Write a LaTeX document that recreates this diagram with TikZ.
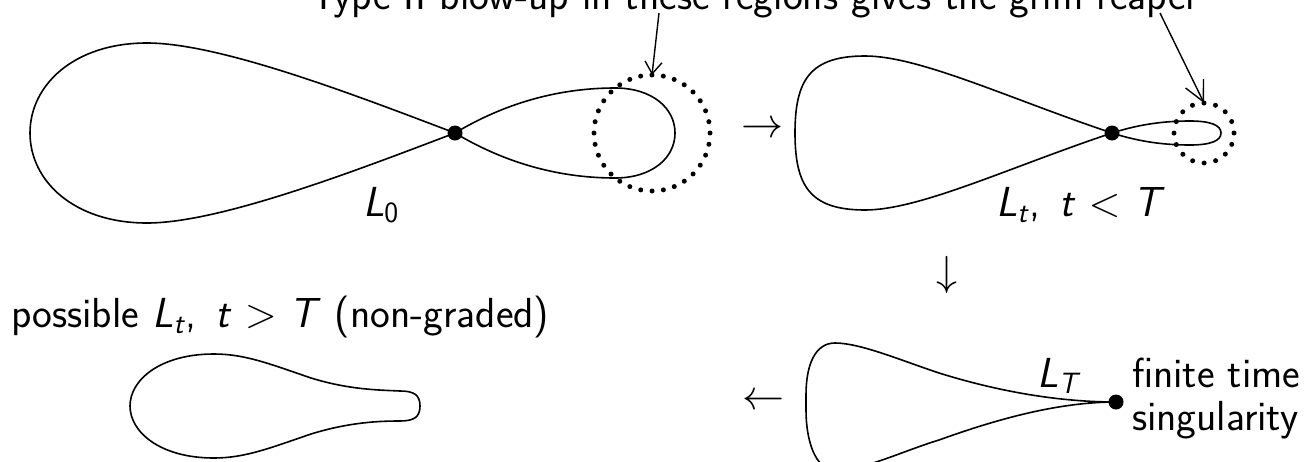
\RequirePackage{fix-cm}
\documentclass[tikz,border=0pt]{standalone}
\usetikzlibrary{arrows.meta}
\tikzset{
  curve/.style={line width=1.6pt, line join=round},
  blob/.style={circle, fill=black, inner sep=0pt, minimum size=15pt},
  dotring/.style={circle, draw, inner sep=0pt, outer sep=0pt, line width=5pt, line cap=round},
  lbl/.style={anchor=base west, inner sep=0pt, outer sep=0pt, font=\sffamily\fontsize{42}{46}\selectfont},
  sym/.style={inner sep=0pt, outer sep=0pt, font=\fontsize{42}{46}\selectfont},
  pointer/.style={line width=1.4pt},
}
\begin{document}
\begin{tikzpicture}[x=1pt,y=-1pt]
\useasboundingbox (0,0) rectangle (1314,461);
\clip (0,0) rectangle (1314,461);

% crossing points
\node[blob] (n1) at (455,133) {};
\node[blob] (n2) at (1112,133) {};
\node[blob] (nT) at (1116,402) {};

% dotted rings
\node[dotring, minimum size=116pt, dash pattern=on 0pt off 11.388pt] (ring1) at (652,133) {};
\node[dotring, minimum size=60pt, dash pattern=on 0pt off 11.781pt] (ring2) at (1204,133) {};

% L_0
\draw[curve] (n1.center) .. controls (355,95) and (220,43) .. (147,43)
  .. controls (74,43) and (30,85) .. (30,133)
  .. controls (30,181) and (74,223) .. (147,223)
  .. controls (220,223) and (355,171) .. (n1.center);
\draw[curve] (n1.center) .. controls (510,100) and (565,88) .. (615,88)
  .. controls (652,88) and (675,108) .. (675,133)
  .. controls (675,158) and (652,178) .. (615,178)
  .. controls (565,178) and (510,166) .. (n1.center);

% L_t, t<T
\draw[curve] (n2.center) .. controls (1010,99) and (920,56) .. (865,56)
  .. controls (810,56) and (795,80) .. (795,133)
  .. controls (795,186) and (810,210) .. (865,210)
  .. controls (920,210) and (1010,167) .. (n2.center);
\draw[curve] (n2.center) .. controls (1140,124) and (1165,121) .. (1190,121)
  .. controls (1210,121) and (1221,125) .. (1221,133)
  .. controls (1221,141) and (1210,145) .. (1190,145)
  .. controls (1165,145) and (1140,142) .. (n2.center);

% possible L_t, t>T
\draw[curve] (420,406) .. controls (420,395) and (414,391) .. (400,391)
  .. controls (380,390) and (350,390) .. (311,378)
  .. controls (270,364) and (245,354) .. (214,354)
  .. controls (160,354) and (130,380) .. (130,406)
  .. controls (130,432) and (160,458) .. (214,458)
  .. controls (245,458) and (270,448) .. (311,434)
  .. controls (350,422) and (380,421) .. (400,421)
  .. controls (414,421) and (420,417) .. (420,406) -- cycle;

% L_T
\draw[curve] (nT.center) .. controls (1060,402) and (1000,392) .. (939,373)
  .. controls (900,360) and (860,343) .. (835,343)
  .. controls (815,343) and (806,365) .. (806,395)
  -- (806,410)
  .. controls (806,440) and (815,470) .. (835,470)
  .. controls (865,470) and (900,452) .. (939,440)
  .. controls (1000,418) and (1060,402) .. (nT.center);

% texts
\node[lbl] (top) at (310,9) {Type II blow-up in these regions gives the grim reaper};
\node[lbl] (l0) at (363,216) {\textit{L}\textsubscript{0}};
\node[lbl] (lt) at (996,216) {\textit{L}\textsubscript{\textit{t}},\hspace{0.45em}\textit{t} $<$ \textit{T}};
\node[sym] (ar1) at (762,130) {$\rightarrow$};
\node[sym] (ar2) at (947,275) {$\downarrow$};
\node[sym] (ar3) at (763,402) {$\leftarrow$};
\node[lbl] (poss) at (11,327) {possible \textit{L}\textsubscript{\textit{t}},\hspace{0.45em}\textit{t} $>$ \textit{T} (non-graded)};
\node[lbl] (lT) at (1037,387) {\textit{L}\textsubscript{\textit{T}}};
\node[lbl] (fin) at (1132,387) {finite time};
\node[lbl] (sing) at (1132,430) {singularity};

% pointers
\coordinate (p1) at (659,13);
\coordinate (p2) at (1160,13);
\draw[pointer, -{Straight Barb[length=12pt,width=17pt]}] (p1) -- (ring1.north);
\draw[pointer, -{Straight Barb[length=20pt,width=20pt]}] (p2) -- (ring2.north);
\end{tikzpicture}
\end{document}
